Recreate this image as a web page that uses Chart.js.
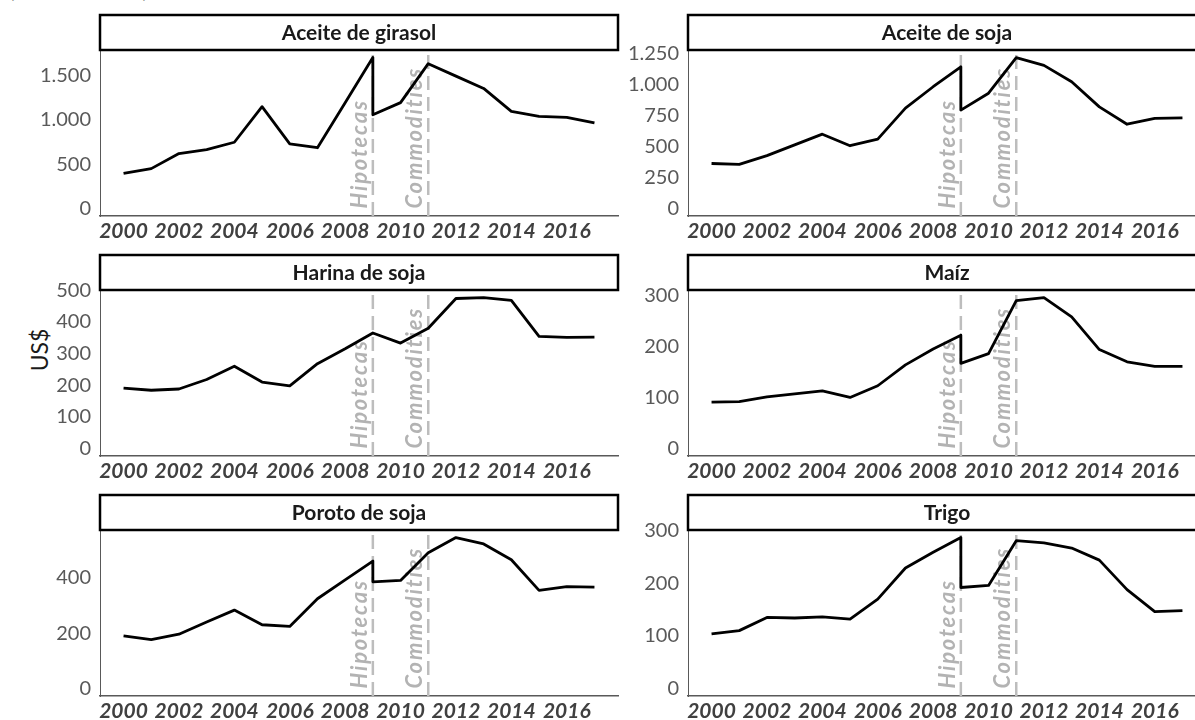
<!DOCTYPE html>
<html lang="es">
<head>
<meta charset="utf-8">
<title>Precios internacionales - commodities agrícolas</title>
<script src="https://cdn.jsdelivr.net/npm/chart.js@4.4.1/dist/chart.umd.min.js"></script>
<style>
  html, body { margin: 0; padding: 0; background: #fff; }
  body { width: 1195px; height: 720px; overflow: hidden; position: relative; font-family: Lato, sans-serif; }
  canvas { position: absolute; }
  #unit { position: absolute; left: 9px; top: -22px; font-size: 20px; letter-spacing: 0.5px; color: #595959; white-space: nowrap; }
  #ytitle { position: absolute; left: 39px; top: 350px; transform: translate(-50%, -50%) rotate(-90deg);
            font-size: 23px; color: #1a1a1a; white-space: nowrap; }
</style>
</head>
<body>
<div id="unit">(US$/tonelada)</div>
<div id="ytitle">US$</div>
<script>
// x values: 2009 appears twice (before / after the drop)
const YEARS = [2000, 2001, 2002, 2003, 2004, 2005, 2006, 2007, 2008, 2009, 2009,
               2010, 2011, 2012, 2013, 2014, 2015, 2016, 2017];
const X_TICKS = [2000, 2002, 2004, 2006, 2008, 2010, 2012, 2014, 2016];

const TITLES = ["Aceite de girasol", "Aceite de soja", "Harina de soja", "Maíz", "Poroto de soja", "Trigo"];

const ACEITE_GIRASOL = [395, 450, 620, 665, 748, 1150, 730, 686, 1195, 1705, 1058, 1196, 1636, 1495, 1356, 1097, 1040, 1028, 966];
const ACEITE_SOJA    = [362, 355, 425, 512, 598, 505, 558, 808, 980, 1140, 792, 928, 1215, 1152, 1020, 818, 678, 725, 730];
const HARINA_SOJA    = [191, 184, 188, 218, 260, 210, 198, 268, 315, 365, 365, 333, 380, 474, 477, 468, 354, 351, 352];
const MAIZ           = [91, 92, 101, 107, 113, 100, 123, 164, 195, 222, 167, 186, 290, 296, 258, 194, 170, 161, 161];
const POROTO_SOJA    = [190, 176, 196, 240, 283, 230, 224, 324, 392, 460, 385, 390, 490, 545, 522, 465, 354, 368, 366];
const TRIGO          = [104, 110, 135, 134, 136, 132, 170, 229, 259, 287, 192, 196, 281, 277, 267, 244, 188, 146, 148];

const TICKS_GIRASOL = [0, 500, 1000, 1500];
const TICKS_SOJA    = [0, 250, 500, 750, 1000, 1250];
const TICKS_HARINA  = [0, 100, 200, 300, 400, 500];
const TICKS_MAIZ    = [0, 100, 200, 300];
const TICKS_POROTO  = [0, 200, 400];
const TICKS_TRIGO   = [0, 100, 200, 300];

const EVENT_YEARS  = [2009, 2011];
const EVENT_LABELS = ["Hipotecas", "Commodities"];

const SERIES = [ACEITE_GIRASOL, ACEITE_SOJA, HARINA_SOJA, MAIZ, POROTO_SOJA, TRIGO];
const Y_TICKS = [TICKS_GIRASOL, TICKS_SOJA, TICKS_HARINA, TICKS_MAIZ, TICKS_POROTO, TICKS_TRIGO];

const STRIP_TOP = 15;
const fmt = v => String(v).replace(/\B(?=(\d{3})+(?!\d))/g, ".");

// facet strip on top of each panel
const stripPlugin = {
    id: 'strip',
    afterDraw(chart, args, opts) {
        const { ctx, chartArea: a } = chart;
        ctx.save();
        ctx.fillStyle = '#fff';
        ctx.fillRect(a.left, STRIP_TOP, a.right - a.left, a.top - STRIP_TOP);
        ctx.lineWidth = 2.5;
        ctx.strokeStyle = '#000';
        ctx.strokeRect(a.left, STRIP_TOP, a.right - a.left, a.top - STRIP_TOP);
        ctx.fillStyle = '#1a1a1a';
        ctx.font = 'bold 21px Lato';
        ctx.textAlign = 'center';
        ctx.textBaseline = 'middle';
        ctx.fillText(opts.title, (a.left + a.right) / 2, (STRIP_TOP + a.top) / 2 + 1);
        ctx.restore();
    }
};

// dashed crisis markers with rotated labels
const eventsPlugin = {
    id: 'events',
    beforeDatasetsDraw(chart) {
        const { ctx, chartArea: a, scales: { x, y } } = chart;
        EVENT_YEARS.forEach((yr, i) => {
            const px = x.getPixelForValue(yr);
            ctx.save();
            ctx.strokeStyle = '#bdbdbd';
            ctx.lineWidth = 2.5;
            ctx.setLineDash([14, 7]);
            ctx.beginPath();
            ctx.moveTo(px, a.bottom);
            ctx.lineTo(px, a.top);
            ctx.stroke();
            ctx.translate(px - 2, y.getPixelForValue(0));
            ctx.rotate(-Math.PI / 2);
            ctx.font = 'italic bold 22px Lato';
            ctx.letterSpacing = '1.8px';
            ctx.fillStyle = '#b3b3b3';
            ctx.textAlign = 'left';
            ctx.textBaseline = 'bottom';
            ctx.fillText(EVENT_LABELS[i], 0, 0);
            ctx.restore();
        });
    }
};

function makePanel(i) {
    const col = i % 2, row = Math.floor(i / 2);
    const canvas = document.createElement('canvas');
    canvas.width = col ? 600 : 620;
    canvas.height = 240;
    canvas.style.left = (col ? 620 : 0) + 'px';
    canvas.style.top = (row * 240) + 'px';
    document.body.appendChild(canvas);

    const values = SERIES[i];
    const vmax = Math.max(...values);
    const axisW = col ? 68 : 100;

    new Chart(canvas.getContext('2d'), {
        type: 'line',
        data: {
            datasets: [{
                data: YEARS.map((yr, k) => ({ x: yr, y: values[k] })),
                borderColor: '#000',
                borderWidth: 2.8,
                borderJoinStyle: 'round',
                pointRadius: 0,
                tension: 0,
                fill: false
            }]
        },
        options: {
            responsive: false,
            animation: false,
            events: [],
            layout: { padding: { top: 50, right: col ? 14 : 2, left: 0, bottom: 0 } },
            scales: {
                x: {
                    type: 'linear',
                    min: 1999.15,
                    max: 2017.85,
                    afterBuildTicks: s => { s.ticks = X_TICKS.map(v => ({ value: v })); },
                    afterFit: s => { s.height = 24; },
                    ticks: {
                        callback: v => String(v),
                        font: { family: 'Lato', size: 21, weight: 'bold', style: 'italic' },
                        color: '#404040',
                        padding: 3,
                        maxRotation: 0,
                        autoSkip: false
                    },
                    grid: { display: true, drawOnChartArea: false, drawTicks: false, color: 'rgba(0,0,0,0)' },
                    border: { display: true, color: '#595959', width: 1.5 }
                },
                y: {
                    min: -0.05 * vmax,
                    max: 1.05 * vmax,
                    afterBuildTicks: s => { s.ticks = Y_TICKS[i].map(v => ({ value: v })); },
                    afterFit: s => { s.width = axisW; },
                    ticks: {
                        callback: v => fmt(v),
                        font: { family: 'Lato', size: 20 },
                        color: '#595959',
                        padding: 9
                    },
                    grid: { display: true, drawOnChartArea: false, drawTicks: false, color: 'rgba(0,0,0,0)' },
                    border: { display: true, color: '#595959', width: 1 }
                }
            },
            plugins: {
                legend: { display: false },
                tooltip: { enabled: false },
                strip: { title: TITLES[i] }
            }
        },
        plugins: [eventsPlugin, stripPlugin]
    });
}

TITLES.forEach((t, i) => makePanel(i));
</script>
</body>
</html>
